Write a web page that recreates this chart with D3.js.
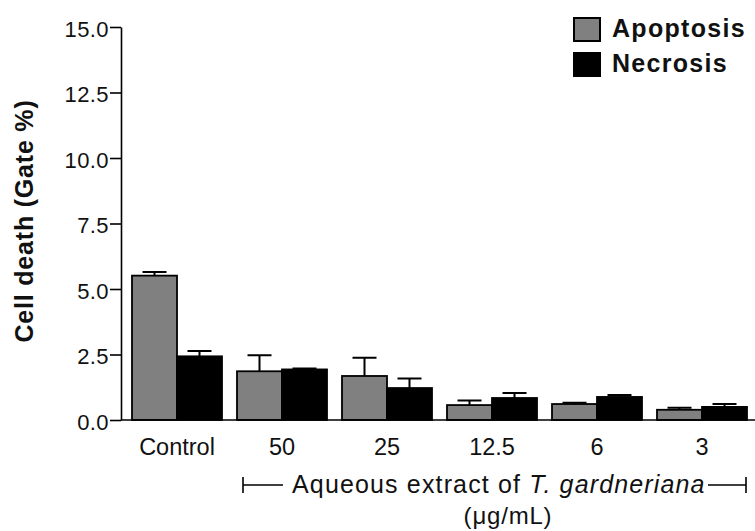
<!DOCTYPE html>
<html>
<head>
<meta charset="utf-8">
<script src="https://cdn.jsdelivr.net/npm/d3@7"></script>
<style>
  html, body { margin: 0; padding: 0; background: #fff; }
  svg { display: block; font-family: "Liberation Sans", Arial, Helvetica, sans-serif; }
</style>
</head>
<body>
<svg id="chart" width="755" height="531"></svg>
<script>
// ---- data ----
const categories = ["Control", "50", "25", "12.5", "6", "3"];
const seriesNames = ["Apoptosis", "Necrosis"];
const apoptosisValues = [5.51, 1.86, 1.68, 0.57, 0.61, 0.39];
const apoptosisErrors = [0.14, 0.61, 0.70, 0.17, 0.05, 0.08];
const necrosisValues = [2.43, 1.93, 1.22, 0.84, 0.88, 0.50];
const necrosisErrors = [0.20, 0.04, 0.36, 0.19, 0.07, 0.11];
const yTickValues = [0, 2.5, 5, 7.5, 10, 12.5, 15];
const seriesColors = ["#808080", "#000000"];
const yAxisTitle = "Cell death (Gate %)";
const xTitleParts = [
  { text: "Aqueous extract of ", italic: false },
  { text: "T. gardneriana", italic: true }
];
const xUnitTitle = "(\u03bcg/mL)";

const rows = categories.map((c, i) => ({
  category: c,
  values: [
    { series: seriesNames[0], value: apoptosisValues[i], err: apoptosisErrors[i] },
    { series: seriesNames[1], value: necrosisValues[i], err: necrosisErrors[i] }
  ]
}));

// ---- layout ----
const svg = d3.select("#chart");
const axisX = 121, yZero = 420, yTop = 27;

const x0 = d3.scaleBand().domain(categories).range([124.5, 754.5])
  .paddingInner(1 / 7).paddingOuter(1 / 14);
const x1 = d3.scaleBand().domain(seriesNames).range([0, x0.bandwidth()]);
const y = d3.scaleLinear().domain([0, 15]).range([yZero, yTop]);
const color = d3.scaleOrdinal().domain(seriesNames).range(seriesColors);

// y axis
const yAxis = svg.append("g")
  .attr("transform", `translate(${axisX},0)`)
  .call(d3.axisLeft(y).tickValues(yTickValues).tickFormat(d3.format(".1f"))
    .tickSize(11).tickSizeOuter(0).tickPadding(1));
yAxis.select(".domain").attr("stroke", "#000").attr("stroke-width", 1.6);
yAxis.selectAll(".tick line").attr("stroke", "#000").attr("stroke-width", 1.6);
yAxis.selectAll(".tick text")
  .attr("font-size", 22).attr("fill", "#111").attr("letter-spacing", 0.4)
  .attr("font-family", "Liberation Sans, Arial, sans-serif")
  .attr("dy", "0.42em");

// x axis (category labels only)
const xAxis = svg.append("g")
  .attr("transform", `translate(0,${yZero})`)
  .call(d3.axisBottom(x0).tickSize(0).tickPadding(0));
xAxis.select(".domain").remove();
xAxis.selectAll(".tick text")
  .attr("font-size", 23.5).attr("fill", "#111")
  .attr("font-family", "Liberation Sans, Arial, sans-serif")
  .attr("y", 35).attr("dy", 0);

// bars
const groups = svg.append("g").selectAll("g")
  .data(rows).join("g")
  .attr("transform", d => `translate(${x0(d.category)},0)`);

groups.selectAll("rect")
  .data(d => d.values).join("rect")
  .attr("x", d => x1(d.series))
  .attr("y", d => y(d.value))
  .attr("width", x1.bandwidth())
  .attr("height", d => y(0) - y(d.value))
  .attr("fill", d => color(d.series))
  .attr("stroke", "#000").attr("stroke-width", 1.8);

// error bars (upper only)
const capHalf = 12;
groups.selectAll("path.err")
  .data(d => d.values).join("path")
  .attr("class", "err")
  .attr("fill", "none").attr("stroke", "#000").attr("stroke-width", 2)
  .attr("d", d => {
    const cx = x1(d.series) + x1.bandwidth() / 2;
    const top = y(d.value + d.err);
    return `M${cx},${y(d.value)}V${top}M${cx - capHalf},${top}H${cx + capHalf}`;
  });

// x baseline
svg.append("line")
  .attr("x1", axisX).attr("x2", 755)
  .attr("y1", yZero).attr("y2", yZero)
  .attr("stroke", "#000").attr("stroke-width", 1.6);

// y axis title
svg.append("text")
  .attr("transform", `translate(33,221) rotate(-90)`)
  .attr("text-anchor", "middle")
  .attr("font-size", 25).attr("font-weight", "bold").attr("letter-spacing", 0.8)
  .attr("fill", "#111")
  .text(yAxisTitle);

// bracket under the extract concentrations
const bx1 = x0("50") + 6, bx2 = x0("3") + x0.bandwidth() - 1, by = 485;
const bracket = svg.append("g").attr("stroke", "#000").attr("stroke-width", 1.6).attr("fill", "none");
bracket.append("path").attr("d", `M${bx1},${by - 8}V${by + 8}M${bx1},${by}H${bx1 + 40}`);
bracket.append("path").attr("d", `M${bx2},${by - 8}V${by + 8}M${bx2},${by}H${bx2 - 38}`);

const title = svg.append("text")
  .attr("x", 292).attr("y", 493)
  .attr("font-size", 25).attr("letter-spacing", 1.15).attr("fill", "#111");
title.selectAll("tspan").data(xTitleParts).join("tspan")
  .attr("font-style", d => d.italic ? "italic" : "normal")
  .text(d => d.text);

svg.append("text")
  .attr("x", 508).attr("y", 524)
  .attr("text-anchor", "middle")
  .attr("font-size", 24).attr("letter-spacing", 0.8).attr("fill", "#111")
  .text(xUnitTitle);

// legend
const legend = svg.append("g").attr("transform", "translate(573,17)");
const li = legend.selectAll("g").data(seriesNames).join("g")
  .attr("transform", (d, i) => `translate(0,${i * 35})`);
li.append("rect")
  .attr("x", 1).attr("y", 1).attr("width", 26).attr("height", 23)
  .attr("fill", d => color(d)).attr("stroke", "#000").attr("stroke-width", 2);
li.append("text")
  .attr("x", 39).attr("y", 20)
  .attr("font-size", 25).attr("font-weight", "bold").attr("letter-spacing", 1.3)
  .attr("fill", "#111")
  .text(d => d);
</script>
</body>
</html>
